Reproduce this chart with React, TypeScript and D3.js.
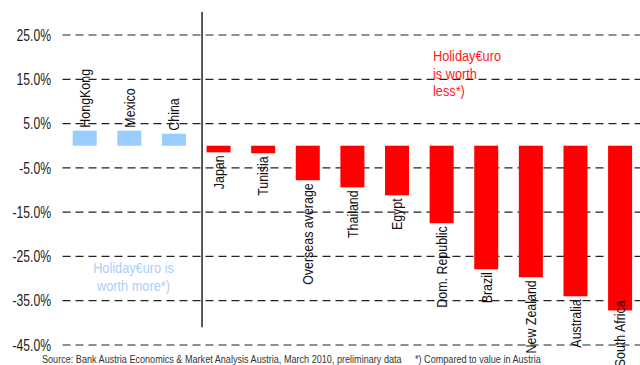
import React from "react";
import * as d3 from "d3";

const categories = ["HongKong", "Mexico", "China", "Japan", "Tunisia", "Overseas average", "Thailand", "Egypt", "Dom. Republic", "Brazil", "New Zealand", "Australia", "South Africa"];
const values = [3.4, 3.4, 2.7, -1.5, -1.7, -7.8, -9.4, -11.2, -17.5, -27.9, -29.7, -34.0, -37.2];
const yTicks = [25, 15, 5, -5, -15, -25, -35, -45];
const sourceNote = "Source: Bank Austria Economics & Market Analysis Austria, March 2010, preliminary data";
const footNote = "*) Compared to value in Austria";
const moreLines = ["Holiday€uro is", "worth more*)"];
const lessLines = ["Holiday€uro", "is worth", "less*)"];

const W = 640, H = 365;
const FONT = "'Liberation Sans', Arial, sans-serif";

export default function App() {
  const x = d3.scaleBand<string>().domain(categories).range([62.4, 642.4]).paddingInner(0.462).paddingOuter(0.231);
  const y = d3.scaleLinear().domain([-45, 25]).range([345, 35]);
  const bw = x.bandwidth();
  const sepX = (x("Japan") as number) - 4.5;
  const labelMaxY = y(-34.9);
  return (
    <svg width={W} height={H} style={{ position: "absolute", left: 0, top: 0, display: "block" }} fontFamily={FONT}>
      <rect width={W} height={H} fill="#fff" />
      {yTicks.map((t) => (
        <g key={t}>
          <line x1={62.5} x2={W} y1={y(t)} y2={y(t)} stroke="#222" strokeWidth={1.2} strokeDasharray="8,5" />
          <text transform={`translate(51,${y(t)}) scale(0.76,1)`} dy="0.36em" textAnchor="end" fontSize={16} fill="#222">{t.toFixed(1) + "%"}</text>
        </g>
      ))}
      <line x1={sepX} x2={sepX} y1={y(30.2)} y2={y(-41)} stroke="#000" strokeWidth={1.3} />
      {categories.map((c, i) => {
        const v = values[i];
        const cx = (x(c) as number) + bw / 2;
        const top = y(Math.max(0, v));
        const bot = y(Math.min(0, v));
        const ly = v >= 0 ? top - 3 : Math.min(bot + 3, labelMaxY);
        return (
          <g key={c}>
            <rect x={x(c)} y={top} width={bw} height={bot - top} fill={v >= 0 ? "#99ccff" : "#ff0000"} />
            <text transform={`translate(${cx},${ly}) rotate(-90) scale(0.83,1)`} dy="0.35em" textAnchor={v >= 0 ? "start" : "end"} fontSize={15} fill="#111">{c}</text>
          </g>
        );
      })}
      {moreLines.map((l, i) => (
        <text key={l} transform={`translate(133.5,${y(-27.6) + i * 18}) scale(0.85,1)`} dy="0.35em" textAnchor="middle" fontSize={15} fill="#a8d0fb">{l}</text>
      ))}
      {lessLines.map((l, i) => (
        <text key={l} transform={`translate(433,${y(20.3) + i * 17.5}) scale(0.85,1)`} dy="0.35em" textAnchor="start" fontSize={15} fill="#ff2020">{l}</text>
      ))}
      <text transform="translate(42,362.5) scale(0.91,1)" fontSize={10} fill="#333">{sourceNote}</text>
      <text transform="translate(415,362.5) scale(0.91,1)" fontSize={10} fill="#333">{footNote}</text>
    </svg>
  );
}
